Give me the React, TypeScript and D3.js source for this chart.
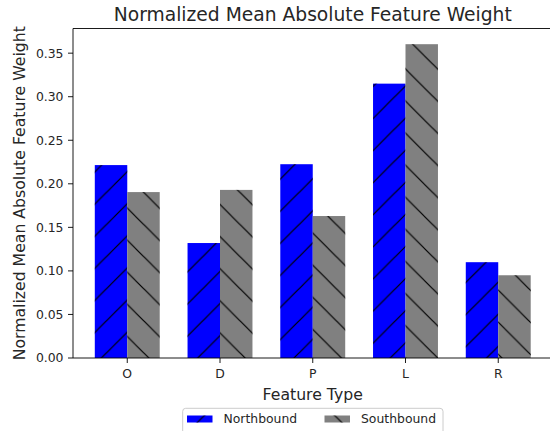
import React from "react";
import * as d3 from "d3";

const categories = ["O", "D", "P", "L", "R"];
const northbound = [0.2215, 0.132, 0.2225, 0.315, 0.11];
const southbound = [0.1905, 0.193, 0.163, 0.3603, 0.095];
const yTicks = [0, 0.05, 0.1, 0.15, 0.2, 0.25, 0.3, 0.35];
const seriesNames = ["Northbound", "Southbound"];

const W = 550;
const H = 431;
const FONT = "'DejaVu Sans', sans-serif";
const BAR_W = 0.35;
const HATCH = 32.1;

export default function App() {
  const left = 73;
  const right = 552.5;
  const top = 28.5;
  const bottom = 358;
  const n = categories.length;
  const xMinData = -BAR_W / 2;
  const xMaxData = n - 1 + BAR_W * 1.5;
  const xPad = (xMaxData - xMinData) * 0.05;
  const x = d3.scaleLinear().domain([xMinData - xPad, xMaxData + xPad]).range([left, right]);
  const yMax = (d3.max([...northbound, ...southbound]) as number) * 1.05;
  const y = d3.scaleLinear().domain([0, yMax]).range([bottom, top]);

  const bars: { x0: number; x1: number; y: number; series: number }[] = [];
  categories.forEach((_, i) => {
    bars.push({ x0: x(i - BAR_W / 2), x1: x(i + BAR_W / 2), y: y(northbound[i]), series: 0 });
    bars.push({ x0: x(i + BAR_W / 2), x1: x(i + BAR_W * 1.5), y: y(southbound[i]), series: 1 });
  });

  const fills = ["#0000ff", "#808080"];
  const patterns = ["url(#hatchNE)", "url(#hatchNW)"];

  return (
    <svg
      width={W}
      height={H}
      style={{ position: "absolute", left: 0, top: 0, background: "#fff" }}
      fontFamily={FONT}
    >
      <defs>
        <pattern
          id="hatchNE"
          patternUnits="userSpaceOnUse"
          width={HATCH}
          height={HATCH}
          patternTransform="translate(10,0)"
        >
          <line x1={-2} y1={HATCH + 2} x2={HATCH + 2} y2={-2} stroke="#000" strokeWidth={1.2} />
          <line x1={-2} y1={2} x2={2} y2={-2} stroke="#000" strokeWidth={1.2} />
          <line x1={HATCH - 2} y1={HATCH + 2} x2={HATCH + 2} y2={HATCH - 2} stroke="#000" strokeWidth={1.2} />
        </pattern>
        <pattern
          id="hatchNW"
          patternUnits="userSpaceOnUse"
          width={HATCH}
          height={HATCH}
          patternTransform="translate(15.5,0)"
        >
          <line x1={-2} y1={-2} x2={HATCH + 2} y2={HATCH + 2} stroke="#000" strokeWidth={1.2} />
          <line x1={HATCH - 2} y1={-2} x2={HATCH + 2} y2={2} stroke="#000" strokeWidth={1.2} />
          <line x1={-2} y1={HATCH - 2} x2={2} y2={HATCH + 2} stroke="#000" strokeWidth={1.2} />
        </pattern>
      </defs>

      {/* bars */}
      {bars.map((b, i) => (
        <g key={i}>
          <rect x={b.x0} y={b.y} width={b.x1 - b.x0} height={bottom - b.y} fill={fills[b.series]} />
          <rect x={b.x0} y={b.y} width={b.x1 - b.x0} height={bottom - b.y} fill={patterns[b.series]} />
        </g>
      ))}

      {/* spines */}
      <line x1={left} y1={top} x2={left} y2={bottom} stroke="#000" strokeWidth={0.9} />
      <line x1={left} y1={bottom} x2={right} y2={bottom} stroke="#000" strokeWidth={0.9} />
      <line x1={left} y1={top} x2={right} y2={top} stroke="#000" strokeWidth={0.9} />
      <line x1={right} y1={top} x2={right} y2={bottom} stroke="#000" strokeWidth={0.9} />

      {/* y ticks */}
      {yTicks.map((t) => (
        <g key={t}>
          <line x1={left - 5} x2={left} y1={y(t)} y2={y(t)} stroke="#000" strokeWidth={0.9} />
          <text x={left - 9.5} y={y(t)} dy="0.36em" textAnchor="end" fontSize={12.4} fill="#262626">
            {t.toFixed(2)}
          </text>
        </g>
      ))}

      {/* x ticks */}
      {categories.map((c, i) => (
        <g key={c}>
          <line x1={x(i + BAR_W / 2)} x2={x(i + BAR_W / 2)} y1={bottom} y2={bottom + 5} stroke="#000" strokeWidth={0.9} />
          <text x={x(i + BAR_W / 2)} y={377.5} textAnchor="middle" fontSize={12.4} fill="#262626">
            {c}
          </text>
        </g>
      ))}

      {/* title and labels */}
      <text x={(left + right) / 2} y={20.7} textAnchor="middle" fontSize={18.7} fill="#262626">
        Normalized Mean Absolute Feature Weight
      </text>
      <text x={(left + right) / 2} y={399.7} textAnchor="middle" fontSize={15.7} fill="#262626">
        Feature Type
      </text>
      <text
        transform={`translate(25,${(top + bottom) / 2}) rotate(-90)`}
        textAnchor="middle"
        fontSize={15.7}
        fill="#262626"
      >
        Normalized Mean Absolute Feature Weight
      </text>

      {/* legend */}
      <rect x={182.7} y={408.3} width={260.3} height={32} rx={3} fill="#fff" fillOpacity={0.8} stroke="#cccccc" strokeWidth={1} />
      {seriesNames.map((s, i) => {
        const px = i === 0 ? 187 : 324.5;
        return (
          <g key={s}>
            <rect x={px} y={415.5} width={25.5} height={7} fill={fills[i]} />
            <rect x={px} y={415.5} width={25.5} height={7} fill={patterns[i]} />
            <text x={px + 36.5} y={422.5} fontSize={12.4} fill="#262626">
              {s}
            </text>
          </g>
        );
      })}
    </svg>
  );
}
